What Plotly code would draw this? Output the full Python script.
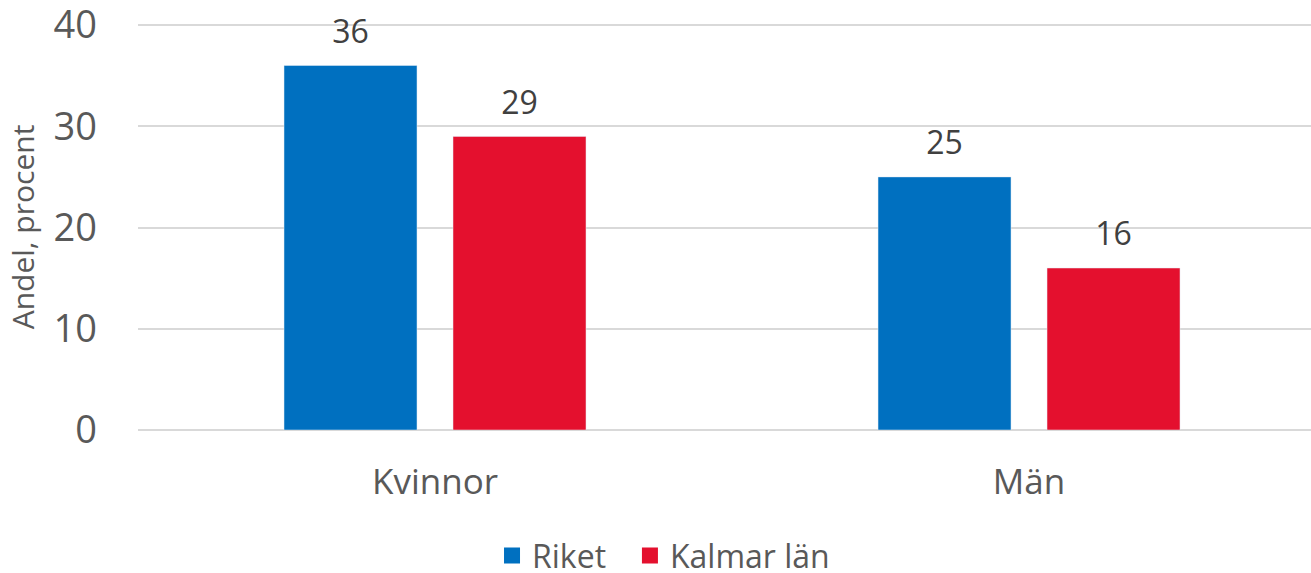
import plotly.graph_objects as go

categories = ["Kvinnor", "Män"]
riket = [36, 25]
kalmar = [29, 16]
series_names = ["Riket", "Kalmar län"]
colors = ["#0070C0", "#E4102E"]
y_ticks = [0, 10, 20, 30, 40]

FONT = "'Open Sans', sans-serif"
TXT = "#595959"

fig = go.Figure()
for i, (name, vals, col) in enumerate(zip(series_names, [riket, kalmar], colors)):
    fig.add_trace(go.Bar(
        x=categories, y=vals, name=name, marker_color=col,
        offsetgroup=str(i), showlegend=False,
    ))
for i, (name, vals) in enumerate(zip(series_names, [riket, kalmar])):
    fig.add_trace(go.Scatter(
        x=categories, y=vals, mode="markers+text", text=[str(v) for v in vals],
        textposition="top center", offsetgroup=str(i), showlegend=False,
        marker=dict(size=22, color="rgba(0,0,0,0)"), hoverinfo="skip",
        textfont=dict(size=32, color="#404040", family=FONT), cliponaxis=False,
    ))
# legend entries (square swatches), one legend each for exact placement
legend_ids = ["legend", "legend2"]
for i, (name, col) in enumerate(zip(series_names, colors)):
    fig.add_trace(go.Scatter(
        x=[None], y=[None], mode="markers", name=name, offsetgroup=str(i),
        marker=dict(symbol="square", size=16, color=col), showlegend=True,
        legend=legend_ids[i],
    ))

leg_common = dict(orientation="h", xref="container", xanchor="left",
                  yref="container", y=0.03, yanchor="middle",
                  font=dict(size=32, color=TXT), itemwidth=30,
                  bgcolor="rgba(0,0,0,0)")
fig.update_layout(
    width=1311, height=573,
    margin=dict(l=138, r=0, t=24, b=143, autoexpand=False),
    paper_bgcolor="white", plot_bgcolor="white",
    barmode="group", bargap=0.431, bargroupgap=0.213,
    scattermode="group", scattergap=0.431,
    font=dict(family=FONT, color=TXT),
    showlegend=True,
    legend=dict(x=0.3753, **leg_common),
    legend2=dict(x=0.4805, **leg_common),
)
fig.update_xaxes(range=[-0.5, 1.4747], showgrid=False, showline=False, ticks="",
                 tickfont=dict(size=35, color=TXT), ticklabelstandoff=28, automargin=False)
fig.update_yaxes(range=[0, 40.1], tickvals=y_ticks, showgrid=True, gridcolor="#D9D9D9",
                 gridwidth=2, zeroline=True, zerolinecolor="#D9D9D9", zerolinewidth=2,
                 showline=False, ticks="", tickfont=dict(size=38, color=TXT),
                 ticklabelstandoff=40, automargin=False, ticklabeloverflow="allow",
                 title=dict(text="Andel, procent", font=dict(size=30, color=TXT), standoff=10))

fig.write_html("out.html", config={"displayModeBar": False},
               post_script="document.body.style.margin='0px';")
